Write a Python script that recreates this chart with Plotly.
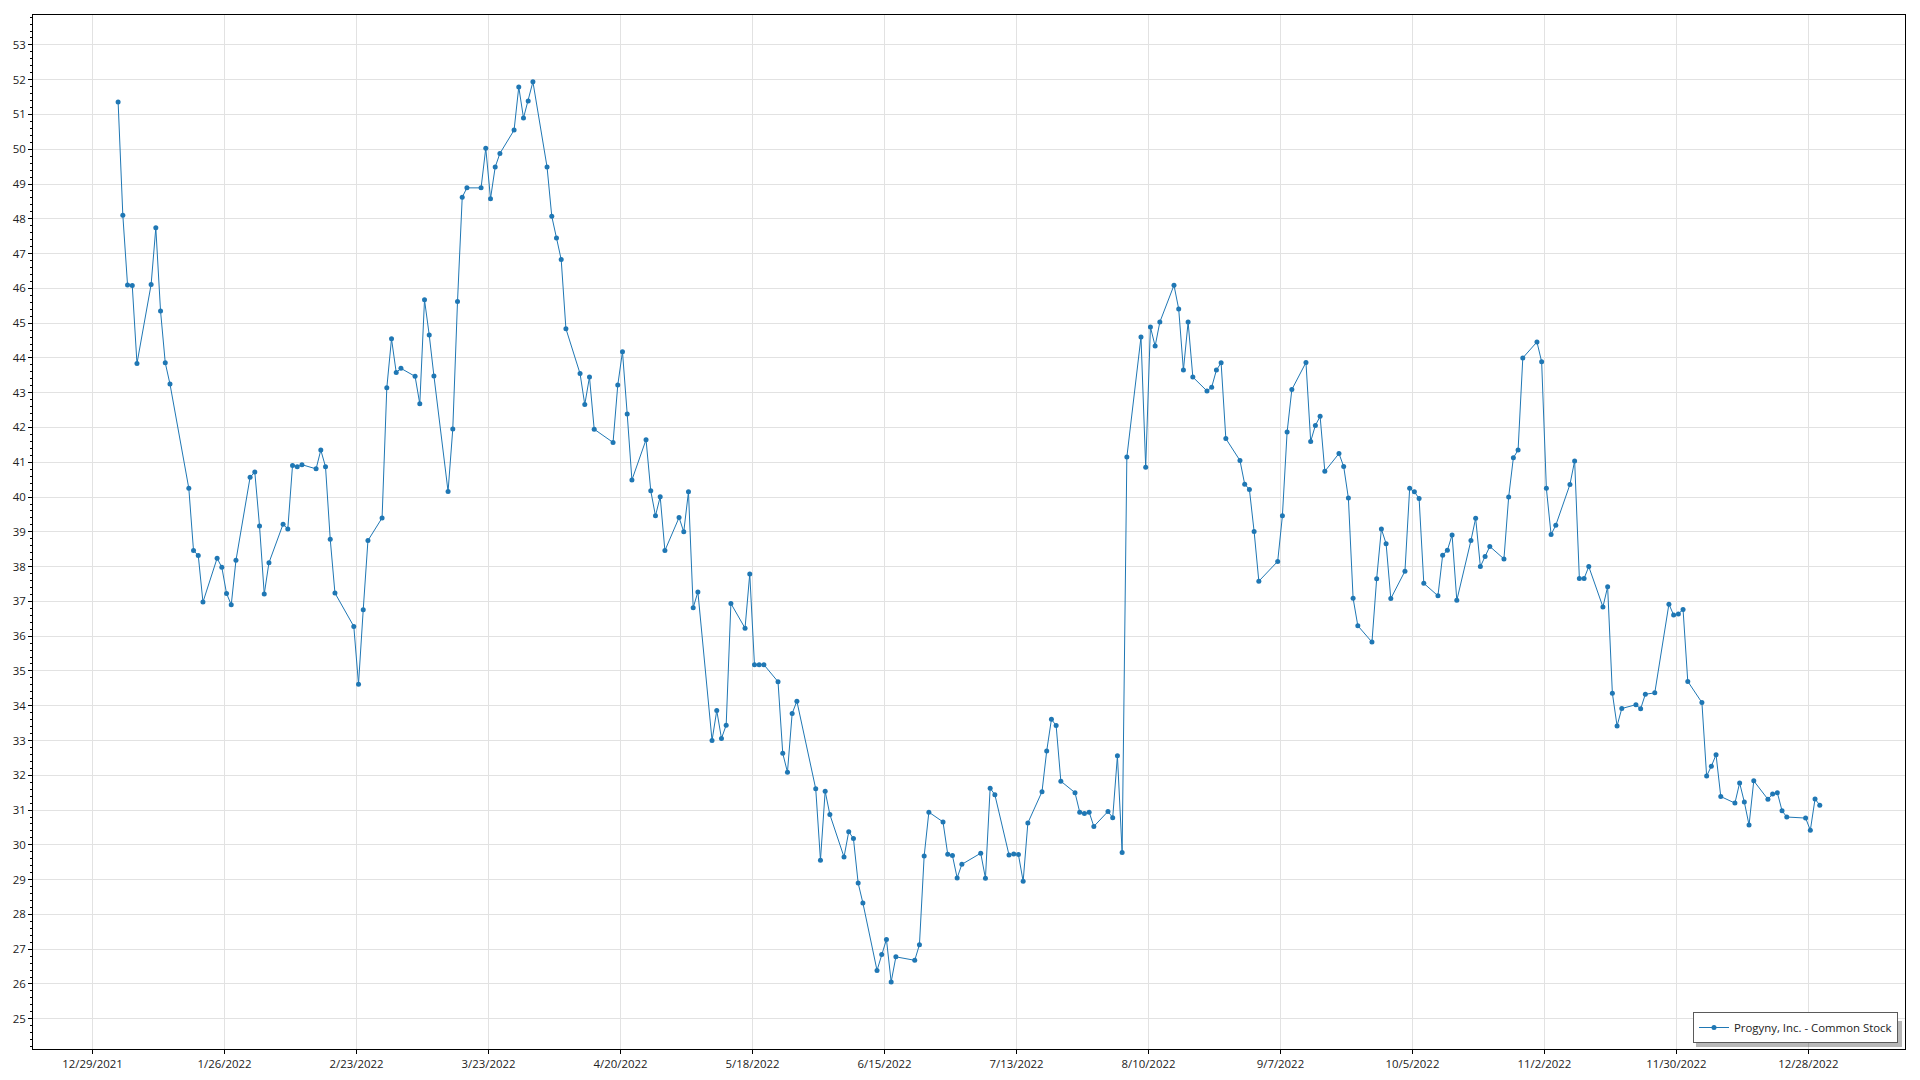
import plotly.graph_objects as go

# Trading days of 2022 (day-of-month per month)
DAYS = {
    1: [3, 4, 5, 6, 7, 10, 11, 12, 13, 14, 18, 19, 20, 21, 24, 25, 26, 27, 28, 31],
    2: [1, 2, 3, 4, 7, 8, 9, 10, 11, 14, 15, 16, 17, 18, 22, 23, 24, 25, 28],
    3: [1, 2, 3, 4, 7, 8, 9, 10, 11, 14, 15, 16, 17, 18, 21, 22, 23, 24, 25, 28, 29, 30, 31],
    4: [1, 4, 5, 6, 7, 8, 11, 12, 13, 14, 18, 19, 20, 21, 22, 25, 26, 27, 28, 29],
    5: [2, 3, 4, 5, 6, 9, 10, 11, 12, 13, 16, 17, 18, 19, 20, 23, 24, 25, 26, 27, 31],
    6: [1, 2, 3, 6, 7, 8, 9, 10, 13, 14, 15, 16, 17, 21, 22, 23, 24, 27, 28, 29, 30],
    7: [1, 5, 6, 7, 8, 11, 12, 13, 14, 15, 18, 19, 20, 21, 22, 25, 26, 27, 28, 29],
    8: [1, 2, 3, 4, 5, 8, 9, 10, 11, 12, 15, 16, 17, 18, 19, 22, 23, 24, 25, 26, 29, 30, 31],
    9: [1, 2, 6, 7, 8, 9, 12, 13, 14, 15, 16, 19, 20, 21, 22, 23, 26, 27, 28, 29, 30],
    10: [3, 4, 5, 6, 7, 10, 11, 12, 13, 14, 17, 18, 19, 20, 21, 24, 25, 26, 27, 28, 31],
    11: [1, 2, 3, 4, 7, 8, 9, 10, 11, 14, 15, 16, 17, 18, 21, 22, 23, 25, 28, 29, 30],
    12: [1, 2, 5, 6, 7, 8, 9, 12, 13, 14, 15, 16, 19, 20, 21, 22, 23, 27, 28, 29, 30],
}
DATA_TIME = "10:00"  # timestamp of each daily record

# Closing prices per month
JAN = [51.36, 48.10, 46.10, 46.08, 43.84, 46.11, 47.74, 45.35, 43.86, 43.25, 40.25, 38.46, 38.32, 36.98, 38.24, 37.98, 37.23, 36.90, 38.18, 40.57]
FEB = [40.72, 39.17, 37.21, 38.11, 39.22, 39.08, 40.91, 40.87, 40.93, 40.81, 41.35, 40.87, 38.79, 37.24, 36.28, 34.62, 36.76, 38.75, 39.40]
MAR = [43.14, 44.55, 43.58, 43.70, 43.47, 42.68, 45.67, 44.66, 43.48, 40.16, 41.96, 45.62, 48.62, 48.89, 48.89, 50.03, 48.58, 49.49, 49.88, 50.55, 51.79, 50.90, 51.39]
APR = [51.94, 49.49, 48.07, 47.45, 46.83, 44.84, 43.55, 42.66, 43.45, 41.95, 41.57, 43.22, 44.18, 42.39, 40.49, 41.65, 40.18, 39.46, 40.01, 38.46]
MAY = [39.41, 39.00, 40.15, 36.82, 37.27, 33.00, 33.86, 33.06, 33.44, 36.94, 36.23, 37.79, 35.18, 35.18, 35.18, 34.69, 32.63, 32.09, 33.78, 34.13, 31.61]
JUN = [29.56, 31.54, 30.87, 29.65, 30.38, 30.18, 28.90, 28.33, 26.39, 26.85, 27.28, 26.06, 26.78, 26.68, 27.13, 29.68, 30.94, 30.66, 29.73, 29.69, 29.05]
JUL = [29.44, 29.76, 29.04, 31.63, 31.44, 29.71, 29.74, 29.72, 28.95, 30.63, 31.53, 32.70, 33.61, 33.43, 31.83, 31.50, 30.94, 30.90, 30.94, 30.53]
AUG = [30.96, 30.78, 32.56, 29.78, 41.15, 44.60, 40.86, 44.89, 44.34, 45.03, 46.09, 45.41, 43.65, 45.03, 43.45, 43.05, 43.16, 43.65, 43.86, 41.68, 41.05, 40.37, 40.22]
SEP = [39.01, 37.58, 38.15, 39.46, 41.87, 43.09, 43.87, 41.60, 42.06, 42.32, 40.74, 41.25, 40.88, 39.97, 37.09, 36.30, 35.83, 37.65, 39.08, 38.66, 37.08]
OCT = [37.87, 40.25, 40.15, 39.96, 37.52, 37.16, 38.33, 38.47, 38.91, 37.03, 38.75, 39.39, 38.00, 38.29, 38.58, 38.22, 40.00, 41.13, 41.35, 44.00, 44.46]
NOV = [43.89, 40.25, 38.92, 39.19, 40.36, 41.04, 37.66, 37.66, 38.00, 36.84, 37.42, 34.36, 33.42, 33.92, 34.03, 33.91, 34.33, 34.37, 36.92, 36.61, 36.64]
DEC = [36.77, 34.70, 34.09, 31.98, 32.26, 32.59, 31.39, 31.20, 31.78, 31.23, 30.57, 31.84, 31.31, 31.46, 31.50, 30.98, 30.80, 30.77, 30.42, 31.32, 31.14]

MONTH_VALUES = [JAN, FEB, MAR, APR, MAY, JUN, JUL, AUG, SEP, OCT, NOV, DEC]

TICK_DATES = ["2021-12-29", "2022-01-26", "2022-02-23", "2022-03-23", "2022-04-20", "2022-05-18",
              "2022-06-15", "2022-07-13", "2022-08-10", "2022-09-07", "2022-10-05", "2022-11-02",
              "2022-11-30", "2022-12-28"]
TICK_LABELS = ["12/29/2021", "1/26/2022", "2/23/2022", "3/23/2022", "4/20/2022", "5/18/2022",
               "6/15/2022", "7/13/2022", "8/10/2022", "9/7/2022", "10/5/2022", "11/2/2022",
               "11/30/2022", "12/28/2022"]
SERIES_NAME = "Progyny, Inc. - Common Stock"

dates, values = [], []
for m in range(1, 13):
    for d, v in zip(DAYS[m], MONTH_VALUES[m - 1]):
        dates.append(f"2022-{m:02d}-{d:02d} {DATA_TIME}")
        values.append(v)

BLUE = "#1f77b4"
FONT = "Segoe UI, Open Sans, Noto Sans, sans-serif"
FS = 11.4

# plot area in pixels (for legend placement)
W, H = 1920, 1080
ML, MR, MT, MB = 33, 15, 15, 31
PW, PH = W - ML - MR, H - MT - MB


def px_x(px):
    return (px - ML) / PW


def px_y(py):
    return (H - MB - py) / PH


fig = go.Figure()
fig.add_trace(go.Scatter(
    x=dates, y=values, mode="lines+markers", name=SERIES_NAME,
    line=dict(color=BLUE, width=1),
    marker=dict(color=BLUE, size=5),
))

leg_left, leg_right, leg_top, leg_bottom = 1692, 1898, 1017, 1043
SHADOW = 4

fig.update_layout(
    template="none",
    width=W, height=H,
    margin=dict(l=ML, r=MR, t=MT, b=MB, pad=0),
    paper_bgcolor="white", plot_bgcolor="white",
    font=dict(family=FONT, size=FS, color="#222222"),
    showlegend=True,
    legend=dict(
        x=px_x(leg_right), y=px_y(leg_bottom),
        xanchor="right", yanchor="bottom",
        bgcolor="white", bordercolor="#5a5a5a", borderwidth=1,
        font=dict(family=FONT, size=FS, color="#222222"),
        itemwidth=30,
    ),
    shapes=[dict(
        type="rect", xref="paper", yref="paper", layer="above",
        x0=px_x(leg_left + SHADOW), x1=px_x(leg_right + SHADOW),
        y0=px_y(leg_bottom + SHADOW), y1=px_y(leg_top + SHADOW),
        fillcolor="rgba(0,0,0,0.28)", line=dict(width=0),
    )],
)

fig.update_xaxes(
    type="date", automargin=False,
    range=["2021-12-16 08:38", "2023-01-17 12:00"],
    tickvals=TICK_DATES, ticktext=TICK_LABELS,
    showgrid=True, gridcolor="#e2e2e2", gridwidth=1,
    showline=True, linecolor="black", linewidth=1, mirror=True,
    ticks="outside", ticklen=4, tickcolor="black",
    zeroline=False,
)
fig.update_yaxes(
    automargin=False,
    range=[24.13, 53.86],
    tick0=0, dtick=1,
    showgrid=True, gridcolor="#e2e2e2", gridwidth=1,
    showline=True, linecolor="black", linewidth=1, mirror=True,
    ticks="outside", ticklen=4, tickcolor="black",
    minor=dict(dtick=0.2, ticks="outside", ticklen=2, tickcolor="black", showgrid=False),
    zeroline=False,
)

fig.write_html(
    "out.html",
    config={"displayModeBar": False},
    post_script="document.body.style.margin='0';document.body.style.overflow='hidden';",
)
